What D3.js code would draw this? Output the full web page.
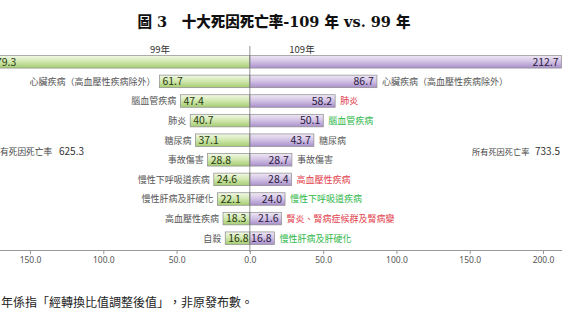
<!DOCTYPE html>
<html>
<head>
<meta charset="utf-8">
<script src="https://cdn.jsdelivr.net/npm/d3@7"></script>
<style>
  body { margin: 0; background: #fff; }
  svg { display: block; }
  text { font-family: "Noto Sans CJK TC", "Noto Sans", sans-serif; text-spacing-trim: space-all; }
</style>
</head>
<body>
<svg width="562" height="316"></svg>
<script>
// data
const cats99 = ["惡性腫瘤", "心臟疾病（高血壓性疾病除外）", "腦血管疾病", "肺炎", "糖尿病",
  "事故傷害", "慢性下呼吸道疾病", "慢性肝病及肝硬化", "高血壓性疾病", "自殺"];
const vals99 = [179.3, 61.7, 47.4, 40.7, 37.1, 28.8, 24.6, 22.1, 18.3, 16.8];

const cats109 = ["惡性腫瘤", "心臟疾病（高血壓性疾病除外）", "肺炎", "腦血管疾病", "糖尿病",
  "事故傷害", "高血壓性疾病", "慢性下呼吸道疾病", "腎炎、腎病症候群及腎病變", "慢性肝病及肝硬化"];
const vals109 = [212.7, 86.7, 58.2, 50.1, 43.7, 28.7, 28.4, 24.0, 21.6, 16.8];
// rank change vs 99: up / down / same
const move109 = ["same", "same", "up", "down", "same", "same", "up", "down", "up", "down"];

const total99 = 625.3, total109 = 733.5;
const ticks = [-150, -100, -50, 0, 50, 100, 150, 200];

const svg = d3.select("svg");

// x scale: negative side = 99年, positive = 109年
const x = d3.scaleLinear().domain([-150, 200]).range([30, 543]);
const y = d3.scaleBand().domain(d3.range(10)).range([52, 248]).paddingInner(0.36).paddingOuter(0.18);

const moveColor = { same: "#555", up: "#e2404a", down: "#2fb84a" };

// gradients for bars
const defs = svg.append("defs");
function grad(id, stops) {
  const g = defs.append("linearGradient").attr("id", id)
    .attr("x1", 0).attr("y1", 0).attr("x2", 0).attr("y2", 1);
  stops.forEach(s => g.append("stop").attr("offset", s[0]).attr("stop-color", s[1]));
}
grad("gGreen", [[0, "#f1f8e6"], [0.45, "#d3e9b2"], [1, "#a5cc72"]]);
grad("gPurple", [[0, "#efe7f5"], [0.45, "#d4c5e6"], [1, "#a98fcb"]]);

// title
svg.append("text")
  .attr("x", 274).attr("y", 27)
  .attr("text-anchor", "middle")
  .style("font-size", "14.5px").style("font-weight", "900")
  .style("font-family", "'DejaVu Serif', 'Noto Sans CJK TC', serif")
  .attr("fill", "#111")
  .text("圖 3　十大死因死亡率-109 年 vs. 99 年");

// series headers
svg.append("text").attr("x", 160).attr("y", 53).attr("text-anchor", "middle")
  .style("font-size", "9.5px").attr("fill", "#333").text("99年");
svg.append("text").attr("x", 302).attr("y", 53).attr("text-anchor", "middle")
  .style("font-size", "9.5px").attr("fill", "#333").text("109年");

// left bars (99年)
svg.append("g").selectAll("rect")
  .data(vals99).enter().append("rect")
  .attr("x", d => x(-d))
  .attr("y", (d, i) => y(i))
  .attr("width", d => x(0) - x(-d))
  .attr("height", y.bandwidth())
  .attr("fill", "url(#gGreen)")
  .attr("stroke", "#8c8c8c").attr("stroke-width", 0.7);

// right bars (109年)
svg.append("g").selectAll("rect")
  .data(vals109).enter().append("rect")
  .attr("x", x(0))
  .attr("y", (d, i) => y(i))
  .attr("width", d => x(d) - x(0))
  .attr("height", y.bandwidth())
  .attr("fill", "url(#gPurple)")
  .attr("stroke", "#8c8c8c").attr("stroke-width", 0.7);

// value labels inside bars
svg.append("g").selectAll("text")
  .data(vals99).enter().append("text")
  .attr("x", d => x(-d) + 3)
  .attr("y", (d, i) => y(i) + y.bandwidth() / 2 + 3.8)
  .style("font-size", "10.5px").attr("fill", "#2a3a10")
  .text(d => d.toFixed(1));

svg.append("g").selectAll("text")
  .data(vals109).enter().append("text")
  .attr("x", d => x(d) - 3)
  .attr("y", (d, i) => y(i) + y.bandwidth() / 2 + 3.8)
  .attr("text-anchor", "end")
  .style("font-size", "10.5px").attr("fill", "#2a2040")
  .text(d => d.toFixed(1));

// category labels (top row sits off the page)
svg.append("g").selectAll("text")
  .data(cats99).enter().append("text")
  .attr("x", (d, i) => x(-vals99[i]) - 4)
  .attr("y", (d, i) => y(i) + y.bandwidth() / 2 + 3.3)
  .attr("text-anchor", "end")
  .style("font-size", "9px").attr("fill", "#555")
  .text(d => d);

svg.append("g").selectAll("text")
  .data(cats109).enter().append("text")
  .attr("x", (d, i) => x(vals109[i]) + 5)
  .attr("y", (d, i) => y(i) + y.bandwidth() / 2 + 3.3)
  .style("font-size", "9px")
  .attr("fill", (d, i) => moveColor[move109[i]])
  .text(d => d);

// totals
svg.append("text").attr("x", -8.7).attr("y", 155)
  .style("font-size", "8.7px").attr("fill", "#444")
  .text("所有死因死亡率");
svg.append("text").attr("x", 59).attr("y", 155)
  .style("font-size", "10px").attr("fill", "#333").text(total99.toFixed(1));
svg.append("text").attr("x", 472).attr("y", 155)
  .style("font-size", "8.2px").attr("fill", "#444")
  .text("所有死因死亡率");
svg.append("text").attr("x", 535).attr("y", 155)
  .style("font-size", "10px").attr("fill", "#333").text(total109.toFixed(1));

// zero line
svg.append("line")
  .attr("x1", x(0)).attr("x2", x(0)).attr("y1", 46).attr("y2", 252)
  .attr("stroke", "#777").attr("stroke-width", 0.8);

// x axis
const axis = svg.append("g")
  .attr("transform", "translate(0,250)")
  .call(d3.axisBottom(x).tickValues(ticks).tickSize(4).tickPadding(3)
    .tickFormat(d => Math.abs(d).toFixed(1)));
axis.select(".domain").attr("d", "M0,0.5H562").attr("stroke", "#999");
axis.selectAll(".tick line").attr("stroke", "#999");
axis.selectAll(".tick text").attr("fill", "#555").style("font-size", "8.5px")
  .style("font-family", "'Noto Sans', sans-serif");

// footnote
svg.append("text").attr("x", 1).attr("y", 307)
  .style("font-size", "12px").attr("fill", "#222")
  .style("font-family", "'Noto Sans CJK TC', serif")
  .text("年係指「經轉換比值調整後值」，非原發布數。");
</script>
</body>
</html>
